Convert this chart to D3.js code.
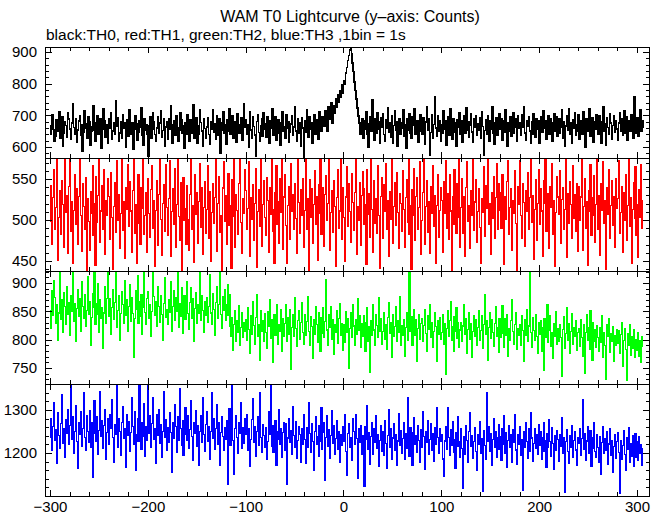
<!DOCTYPE html>
<html><head><meta charset="utf-8">
<script src="https://cdn.jsdelivr.net/npm/d3@7"></script>
<style>
html,body{margin:0;padding:0;background:#fff;}
svg text{font-family:"Liberation Sans",Arial,Helvetica,sans-serif;fill:#000;}
</style></head>
<body><svg id="chart" width="661" height="515"></svg>
<script>
// ---- data (1 bin = 1 s, starting at t = -300 s) ----
const startTime = -300;
const binSize = 1;
const th0 = [
642,668,701,655,619,633,687,676,650,712,628,661,694,603,645,679,668,631,707,689,
657,624,676,738,662,640,690,615,653,682,699,636,669,588,646,713,672,659,627,695,
681,606,649,664,729,652,618,676,700,641,663,690,597,657,721,684,632,670,648,612,
689,660,707,624,651,677,639,746,666,693,618,644,681,629,703,658,675,600,652,687,
633,716,665,640,678,594,655,699,672,621,648,684,661,724,637,606,689,653,670,641,
571,667,694,628,655,708,681,639,617,660,696,645,676,713,630,652,688,602,664,679,
624,690,657,731,648,611,671,683,636,698,660,619,652,709,685,643,667,596,675,640,
701,662,618,686,645,672,734,629,655,693,611,668,640,716,677,650,603,689,658,627,
664,692,639,610,681,657,718,647,674,625,700,666,637,690,582,653,676,711,644,669,
608,686,651,722,639,665,697,628,658,679,614,705,670,643,656,692,621,648,737,662,
685,642,670,598,711,653,627,694,665,638,572,680,701,646,619,667,689,635,708,657,
674,631,696,649,612,683,660,720,637,668,695,623,654,687,643,606,677,712,650,665,
629,702,658,681,614,646,673,699,636,664,727,651,619,688,645,676,603,692,660,568,
682,647,716,663,630,694,655,677,611,669,702,640,686,658,625,711,673,649,696,684,
667,715,692,650,727,688,704,739,676,710,
731,708,752,726,764,741,779,758,796,771,
808,797,834,851,873,889,907,914,894,866,
838,805,779,751,724,698,675,641,662,690,
628,684,657,712,641,600,673,695,650,749,667,622,689,644,708,656,679,611,693,662,
705,639,618,686,660,724,647,675,631,699,612,668,713,652,681,604,657,690,641,677,
659,717,634,671,596,688,653,706,645,627,694,668,720,639,662,683,615,650,701,674,
641,692,663,610,679,727,654,688,574,646,703,629,671,757,660,635,698,651,684,619,
670,645,713,656,682,607,667,694,638,720,659,625,690,648,675,601,685,663,708,640,
683,616,661,697,644,725,653,679,630,669,706,648,614,688,662,700,637,674,652,693,
629,711,665,574,652,687,641,699,670,618,683,656,727,645,609,676,692,638,668,704,
655,690,621,682,647,716,664,603,678,651,695,633,670,709,644,662,688,617,699,658,
676,637,702,661,728,645,620,684,667,695,650,612,679,640,706,673,631,690,657,683,
611,669,694,647,715,660,682,626,655,700,639,688,664,619,676,706,650,695,633,672,
690,645,661,718,628,679,604,667,697,652,721,641,676,613,686,658,707,637,670,649,
703,626,659,684,642,710,665,598,688,649,675,720,634,662,693,616,680,655,701,667,
639,698,657,613,681,727,650,672,605,691,662,640,706,675,624,668,699,646,684,657,
622,676,709,651,688,636,667,714,643,695,620,661,682,649,703,658,627,758,672,644,
691,633,667,719,650,682,660];
const th1 = [
498,542,470,527,561,488,515,579,451,503,536,482,548,519,467,575,509,530,459,541,
574,486,523,447,512,556,495,538,470,529,580,505,462,544,517,489,552,437,526,498,
463,535,508,567,481,520,444,553,497,530,576,473,511,542,489,561,458,524,505,550,
529,476,558,503,440,517,546,485,572,499,531,465,508,579,487,522,453,539,513,568,
492,547,511,460,536,574,484,519,447,528,555,496,470,540,514,578,482,506,533,461,
551,508,479,537,566,490,524,443,512,548,469,531,577,501,457,520,543,486,568,515,
481,526,572,455,510,538,494,563,467,519,580,504,475,546,437,528,552,499,514,470,
542,500,463,531,575,489,518,448,556,507,534,472,523,569,491,540,458,515,547,484,
513,567,478,535,450,509,544,496,527,578,462,520,553,485,506,437,539,571,498,530,
470,523,557,493,518,441,549,504,580,466,531,512,482,545,574,497,459,526,508,561,
536,488,514,571,455,527,501,543,475,520,563,442,510,537,492,575,468,519,548,503,
481,552,524,460,539,507,577,486,513,447,533,566,495,522,471,550,509,579,464,528,
556,493,447,518,541,476,569,510,531,488,545,502,459,574,521,484,537,505,550,467,
512,578,489,526,437,549,503,538,471,519,560,495,529,451,543,508,575,482,516,540,
468,531,554,499,520,580,463,509,536,485,548,517,443,527,562,490,511,574,476,539,
503,449,528,565,492,544,510,473,557,521,487,534,579,458,516,500,546,469,530,559,
538,495,519,446,562,507,532,479,575,513,461,548,496,526,483,567,505,441,529,552,
477,543,510,569,488,524,455,535,501,580,471,517,546,493,558,509,465,532,520,486,
560,513,466,527,549,497,574,482,518,440,537,506,563,475,529,552,489,515,571,458,
499,534,581,470,516,548,485,523,459,541,508,567,492,530,447,518,555,479,512,539,
524,461,547,508,573,490,532,476,556,511,437,528,495,562,519,484,544,503,577,467,
515,551,483,529,456,540,571,498,518,465,536,505,580,487,522,549,473,510,538,491,
447,526,509,565,480,542,514,575,494,520,458,533,502,553,477,527,569,489,545,512,
533,490,556,517,446,529,501,547,573,482,515,538,463,524,508,560,496,437,541,519,
572,505,478,544,521,468,536,511,558,489,527,580,497,530,452,513,549,475,520,562,
494,538,511,456,548,520,577,486,532,503,465,541,515,569,482,524,443,509,553,528,
507,560,472,525,539,488,513,575,454,532,496,547,519,478,566,502,531,486,544,462,
541,499,528,576,463,517,550,490,523,445,536,510,568,481,527,505,554,473,519,580,
488,530,457,545,512,571,496,524,440,539,507,562,477,518,548,493,529,466,551,514,
526,572,483,509,541,460,533,499,555,475,518,580,492,527,447,513,546,502,565,481,
519,454,537,503,568,490,524];
const th2 = [
851,819,886,842,905,874,828,861,799,847,919,836,870,812,883,858,827,894,845,866,
808,877,849,919,832,864,796,855,888,841,873,815,902,859,837,879,823,852,911,845,
868,790,839,881,856,919,827,864,845,898,812,871,838,856,784,847,893,829,872,918,
841,873,810,857,889,835,866,919,822,851,878,799,846,884,862,828,905,843,870,815,
859,897,832,875,846,769,838,887,854,913,829,867,841,880,810,856,919,848,826,872,
885,837,862,806,850,919,876,842,868,823,893,858,831,877,845,799,864,910,839,853,
826,871,848,902,815,859,886,833,874,849,919,821,863,840,892,811,857,878,836,869,
903,846,818,865,891,838,872,797,855,883,829,861,846,919,834,877,851,812,868,842,
874,830,859,915,847,826,881,853,808,866,894,837,862,919,845,819,876,851,888,834,
861,897,842,879,823,805,839,781,826,852,796,834,812,860,789,822,847,803,831,815,
836,798,857,818,775,843,810,868,825,792,839,880,806,827,764,851,814,833,797,846,
812,785,849,823,871,802,836,759,818,844,807,829,862,791,827,814,853,780,838,805,
828,861,797,839,810,853,748,822,845,806,874,819,788,834,851,800,830,866,812,791,
844,807,832,876,815,790,841,823,767,836,809,858,826,795,848,818,779,839,811,856,
803,832,906,817,789,845,822,858,800,836,774,827,812,851,793,837,864,808,829,781,
826,795,850,812,838,750,819,847,803,861,824,790,835,809,872,816,842,786,828,805,
842,811,779,830,856,796,823,742,834,808,861,817,789,845,825,803,874,814,837,792,
815,848,801,827,782,839,866,811,830,768,845,806,823,858,797,834,812,876,789,825,
807,836,771,822,847,799,831,919,814,840,790,826,853,808,835,762,819,845,801,829,
838,796,825,853,811,779,842,818,861,804,830,787,815,848,823,761,833,809,839,800,
812,845,791,828,738,819,851,806,834,867,798,823,779,840,814,856,802,830,786,817,
831,796,824,862,809,837,775,818,848,801,829,768,815,843,806,835,790,821,852,798,
816,843,785,827,880,809,833,764,821,847,802,836,812,788,829,859,806,822,777,838,
803,829,860,811,786,837,807,845,771,820,798,834,870,814,792,826,847,783,819,808,
827,790,842,816,762,835,808,853,797,824,919,812,787,839,816,798,845,805,776,830,
809,834,779,821,745,838,803,827,861,795,817,843,788,812,767,829,806,849,792,820,
797,826,803,735,818,840,784,811,856,799,828,775,815,846,792,821,806,833,781,813,
819,788,836,804,771,827,740,812,844,798,822,783,852,809,764,831,797,818,786,825,
804,779,821,795,842,768,813,790,730,826,805,837,778,811,796,823,762,808,789,818,
793,816,776,809,831,752,798,820,783,728,811,790,827,772,806,785,817,769,800,795,
781,812,770,799,760,805,787];
const th3 = [
1236,1281,1207,1262,1318,1229,1254,1176,1293,1241,1210,1269,1335,1223,1258,1190,1277,1246,1302,1219,
1265,1360,1232,1284,1199,1250,1311,1227,1164,1272,1243,1296,1215,1258,1340,1237,1205,1288,1251,1224,
1298,1213,1270,1143,1245,1322,1261,1228,1285,1196,1253,1343,1239,1276,1210,1263,1301,1184,1248,1279,
1221,1290,1257,1325,1236,1178,1267,1242,1360,1214,1280,1249,1195,1271,1308,1233,1256,1166,1289,1240,
1274,1203,1248,1330,1262,1219,1297,1160,1244,1281,1226,1360,1255,1209,1272,1238,1315,1192,1261,1229,
1360,1245,1286,1214,1268,1328,1231,1257,1175,1290,1240,1302,1222,1266,1189,1251,1344,1236,1278,1206,
1259,1224,1293,1247,1154,1270,1233,1312,1261,1201,1284,1229,1350,1256,1218,1275,1195,1242,1306,1263,
1230,1287,1211,1254,1323,1238,1182,1271,1246,1299,1216,1264,1172,1251,1288,1225,1329,1242,1203,1267,
1296,1228,1262,1185,1250,1341,1234,1279,1209,1257,1313,1221,1270,1171,1247,1285,1239,1206,1260,1232,
1275,1126,1248,1303,1218,1264,1360,1229,1150,1257,1287,1236,1199,1272,1245,1317,1211,1259,1223,1280,
1243,1290,1207,1257,1168,1231,1278,1326,1225,1261,1193,1249,1284,1218,1340,1236,1202,1266,1240,1212,
1259,1184,1227,1296,1244,1356,1215,1263,1201,1238,1275,1170,1250,1232,1301,1221,1257,1189,1247,1270,
1206,1268,1128,1235,1281,1224,1252,1196,1309,1241,1214,1273,1187,1229,1262,1243,1178,1256,1220,1290,
1232,1175,1259,1214,1317,1246,1201,1268,1226,1160,1251,1284,1219,1239,1193,1263,1228,1305,1209,1248,
1270,1137,1236,1287,1215,1254,1188,1241,1299,1222,1265,1197,1233,1276,1208,1250,1179,1242,1218,1261,
1227,1289,1203,1148,1245,1268,1212,1236,1183,1279,1251,1219,1290,1234,1140,1257,1225,1263,1197,1240,
1216,1123,1262,1231,1310,1209,1248,1174,1238,1271,1196,1256,1225,1287,1211,1243,1168,1230,1265,1203,
1251,1194,1276,1222,1163,1240,1302,1214,1258,1186,1235,1269,1207,1244,1172,1228,1291,1217,1253,1199,
1234,1270,1185,1245,1211,1330,1226,1192,1259,1237,1170,1248,1283,1219,1241,1201,1264,1229,1178,1255,
1213,1297,1238,1162,1250,1224,1275,1196,1231,1268,1207,1245,1181,1259,1221,1305,1236,1199,1257,1226,
1243,1186,1146,1228,1262,1209,1306,1237,1195,1254,1218,1273,1201,1232,1165,1247,1216,1284,1227,1190,
1258,1211,1118,1239,1196,1265,1229,1178,1251,1295,1215,1240,1187,1226,1260,1203,1160,1242,1220,1274,
1198,1234,1110,1253,1217,1186,1340,1228,1262,1204,1245,1172,1231,1279,1212,1249,1190,1236,1266,1208,
1239,1183,1257,1221,1288,1200,1247,1166,1230,1264,1214,1242,1178,1255,1225,1290,1207,1173,1244,1219,
1262,1195,1232,1114,1249,1213,1270,1227,1188,1256,1204,1294,1235,1181,1222,1258,1210,1243,1197,1266,
1218,1251,1184,1237,1272,1203,1229,1167,1245,1212,1278,1226,1192,1260,1223,1162,1240,1206,1253,1231,
1180,1243,1216,1283,1198,1235,1108,1227,1255,1203,1176,1241,1214,1264,1190,1229,1250,1207,1172,1237,
1222,1258,1195,1233,1325,1209,1246,1183,1228,1261,1199,1219,1252,1168,1236,1211,1270,1204,1189,1242,
1213,1177,1239,1150,1225,1262,1198,1233,1206,1249,1174,1221,1256,1195,1230,1154,1215,1243,1187,1226,
1248,1201,1105,1229,1184,1218,1252,1196,1160,1235,1209,1259,1179,1222,1193,1240,1168,1213,1245,1190,
1227,1182,1238,1199,1220,1172,1211];

const xTickLabels = [-300, -200, -100, 0, 100, 200, 300];
const yTicksTH0 = [600, 700, 800, 900];
const yTicksTH1 = [450, 500, 550];
const yTicksTH2 = [750, 800, 850, 900];
const yTicksTH3 = [1200, 1300];
const seriesColors = ["#000000", "#ff0000", "#00ff00", "#0000ff"];
const titleText = "WAM T0 Lightcurve (y\u2013axis: Counts)";
const subtitleText = "black:TH0, red:TH1, green:TH2, blue:TH3 ,1bin = 1s";

// ---- layout ----
const svg = d3.select("#chart");
const left = 45, right = 650;
const x = d3.scaleLinear().domain([-305.1, 313.3]).range([left, right]);

const panels = [
  {data: th0, color: seriesColors[0], top: 47, bottom: 158, domain: [565.3, 915.8], ticks: yTicksTH0, minor: 20, major: 100},
  {data: th1, color: seriesColors[1], top: 158, bottom: 271, domain: [437.8, 575.6], ticks: yTicksTH1, minor: 10, major: 50},
  {data: th2, color: seriesColors[2], top: 271, bottom: 384, domain: [721.8, 921], ticks: yTicksTH2, minor: 10, major: 50},
  {data: th3, color: seriesColors[3], top: 384, bottom: 496, domain: [1100, 1360.5], ticks: yTicksTH3, minor: 20, major: 100}
];

svg.append("text").attr("x", 350).attr("y", 22).attr("text-anchor", "middle")
  .style("font-size", "16px").text(titleText);
svg.append("text").attr("x", 46).attr("y", 40)
  .style("font-size", "15.5px").text(subtitleText);

const minorX = d3.range(-300, 311, 20);

panels.forEach((p, i) => {
  const y = d3.scaleLinear().domain(p.domain).range([p.bottom, p.top]);
  const times = p.data.map((d, k) => startTime + k * binSize);
  const clipId = "clip" + i;
  svg.append("clipPath").attr("id", clipId).append("rect")
    .attr("x", left).attr("y", p.top).attr("width", right - left).attr("height", p.bottom - p.top);
  const line = d3.line().x((d, k) => x(times[k])).y(d => y(d)).curve(d3.curveStepAfter);
  svg.append("path").datum(p.data).attr("clip-path", `url(#${clipId})`)
    .attr("fill", "none").attr("stroke", p.color).attr("stroke-width", i === 0 ? 1.6 : 1.1)
    .attr("shape-rendering", "crispEdges")
    .attr("d", line);

  const g = svg.append("g").attr("stroke", "#000").attr("stroke-width", 1).attr("shape-rendering", "crispEdges");
  minorX.forEach(v => {
    const len = (v % 100 === 0) ? 6 : 4;
    const xx = Math.round(x(v)) + 0.5;
    g.append("line").attr("x1", xx).attr("x2", xx).attr("y1", p.top).attr("y2", p.top + len);
    g.append("line").attr("x1", xx).attr("x2", xx).attr("y1", p.bottom).attr("y2", p.bottom - len);
  });
  const yMinor = d3.range(Math.ceil(p.domain[0] / p.minor) * p.minor, p.domain[1], p.minor);
  yMinor.forEach(v => {
    const len = (Math.abs(v % p.major) < 1e-6) ? 7 : 4;
    const yy = Math.round(y(v)) + 0.5;
    g.append("line").attr("x1", left).attr("x2", left + len).attr("y1", yy).attr("y2", yy);
    g.append("line").attr("x1", right).attr("x2", right - len).attr("y1", yy).attr("y2", yy);
  });
  svg.append("rect").attr("x", left + 0.5).attr("y", p.top + 0.5)
    .attr("width", right - left - 1).attr("height", p.bottom - p.top)
    .attr("fill", "none").attr("stroke", "#000").attr("stroke-width", 1)
    .attr("shape-rendering", "crispEdges");
  const yAxis = d3.axisLeft(y).tickValues(p.ticks).tickSize(0).tickPadding(0).tickFormat(d3.format("d"));
  const ag = svg.append("g").attr("transform", `translate(${left - 8},0)`).call(yAxis);
  ag.select(".domain").remove();
  ag.selectAll("text").style("font-size", "15px").attr("font-family", null);
});

const xAxis = d3.axisBottom(x).tickValues(xTickLabels).tickSize(0).tickPadding(0)
  .tickFormat(d => d < 0 ? "\u2212" + Math.abs(d) : String(d));
const xg = svg.append("g").attr("transform", `translate(0,${496 + 5})`).call(xAxis);
xg.select(".domain").remove();
xg.selectAll("text").style("font-size", "15px").attr("font-family", null);
</script></body></html>
